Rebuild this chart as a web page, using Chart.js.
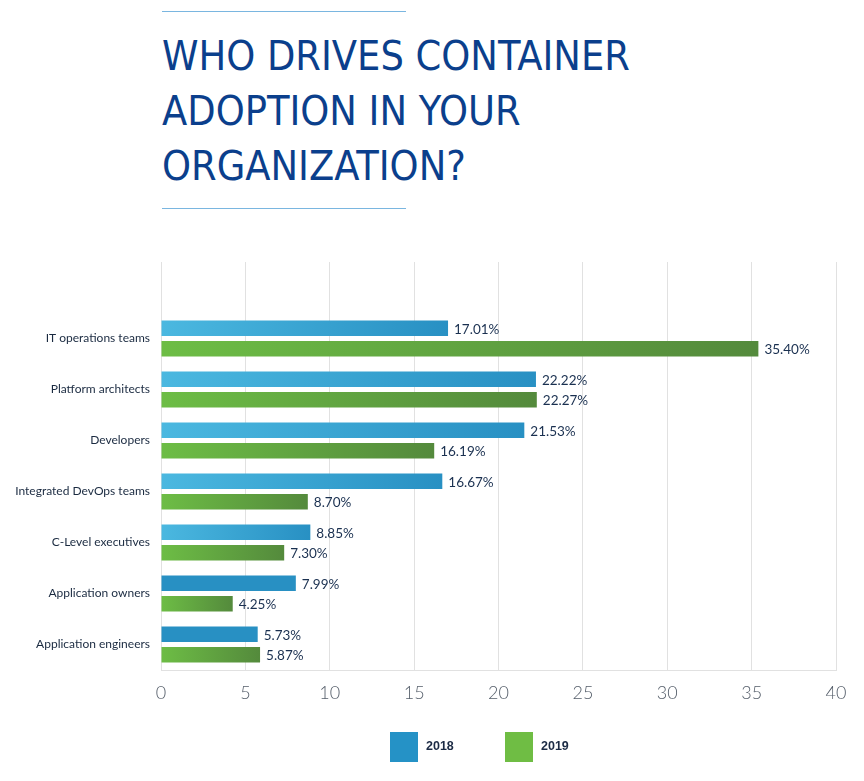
<!DOCTYPE html>
<html>
<head>
<meta charset="utf-8">
<script src="https://cdn.jsdelivr.net/npm/chart.js@4/dist/chart.umd.min.js"></script>
<style>
  html, body { margin: 0; padding: 0; background: #fff; }
  #wrap { position: relative; width: 864px; height: 781px; overflow: hidden; }
  #chart { position: absolute; left: 0; top: 0; }
  .rule { position: absolute; left: 162px; width: 244px; height: 1px; background: #7ab6e0; }
  #title {
    position: absolute; left: 162px; top: 29px; margin: 0;
    font-family: "DejaVu Sans Condensed", sans-serif;
    font-weight: normal; font-size: 41px; line-height: 55px; color: #0b3f8c;
  }
  .lg-box { position: absolute; top: 732px; width: 28px; height: 30px; }
  .lg-text {
    position: absolute; top: 738px; font-family: "Liberation Sans", sans-serif;
    font-weight: bold; font-size: 12.5px; line-height: 16px; color: #1b2a44;
  }
</style>
</head>
<body>
<div id="wrap">
  <div class="rule" style="top:11px"></div>
  <h1 id="title">WHO DRIVES CONTAINER<br>ADOPTION IN YOUR<br>ORGANIZATION?</h1>
  <div class="rule" style="top:208px"></div>
  <canvas id="chart" width="864" height="781"></canvas>
  <div class="lg-box" style="left:390px;background:#2592c6"></div>
  <div class="lg-text" style="left:426px">2018</div>
  <div class="lg-box" style="left:505px;background:#6fbd44"></div>
  <div class="lg-text" style="left:541px">2019</div>
</div>
<script>
const categories = ['IT operations teams', 'Platform architects', 'Developers', 'Integrated DevOps teams',
                    'C-Level executives', 'Application owners', 'Application engineers'];
const values2018 = [17.01, 22.22, 21.53, 16.67, 8.85, 7.99, 5.73];
const values2019 = [35.40, 22.27, 16.19, 8.70, 7.30, 4.25, 5.87];
const xTicks = [0, 5, 10, 15, 20, 25, 30, 35, 40];

// empty first slot leaves the blank band above the first group
const labels = [''].concat(categories);

function barFill(light, dark, solidFrom) {
    return function (ctx) {
        const chart = ctx.chart;
        if (!chart.chartArea || ctx.raw == null) return dark;
        if (solidFrom != null && ctx.dataIndex - 1 >= solidFrom) return dark;
        const x = chart.scales.x;
        const x0 = x.getPixelForValue(0);
        const x1 = x.getPixelForValue(ctx.raw);
        const g = chart.ctx.createLinearGradient(x0, 0, x1, 0);
        g.addColorStop(0, light);
        g.addColorStop(1, dark);
        return g;
    };
}

const valueLabels = {
    id: 'valueLabels',
    afterDatasetsDraw(chart) {
        const ctx = chart.ctx;
        ctx.save();
        ctx.font = '13.5px Lato, sans-serif';
        ctx.fillStyle = '#1a3050';
        ctx.textAlign = 'left';
        ctx.textBaseline = 'middle';
        chart.data.datasets.forEach((ds, di) => {
            chart.getDatasetMeta(di).data.forEach((bar, i) => {
                const v = ds.data[i];
                if (v == null) return;
                ctx.fillText(v.toFixed(2) + '%', bar.x + 6, bar.y + 1);
            });
        });
        ctx.restore();
    }
};

new Chart(document.getElementById('chart'), {
    type: 'bar',
    data: {
        labels: labels,
        datasets: [
            {
                label: '2018',
                data: [null].concat(values2018),
                backgroundColor: barFill('#4bb8e0', '#2890c3', 5)
            },
            {
                label: '2019',
                data: [null].concat(values2019),
                backgroundColor: barFill('#6dbd45', '#548a3c')
            }
        ]
    },
    options: {
        indexAxis: 'y',
        responsive: false,
        animation: false,
        categoryPercentage: 0.8,
        barPercentage: 0.76,
        layout: { padding: { top: 262, right: 28, bottom: 70, left: 0 } },
        plugins: {
            legend: { display: false },
            tooltip: { enabled: false }
        },
        scales: {
            x: {
                min: 0,
                max: 40,
                afterBuildTicks(scale) { scale.ticks = xTicks.map(v => ({ value: v })); },
                afterFit(scale) { scale.height = 41; },
                grid: { color: '#e1e1e1', drawTicks: false },
                border: { color: '#e1e1e1' },
                ticks: {
                    padding: 12,
                    color: '#555e6a',
                    font: { family: 'Lato', size: 18, weight: 300 }
                }
            },
            y: {
                afterFit(scale) { scale.width = 161; },
                grid: { display: false, drawTicks: false },
                border: { display: false },
                ticks: {
                    padding: 11,
                    color: '#1a2a40',
                    font: { family: 'Lato', size: 12 }
                }
            }
        }
    },
    plugins: [valueLabels]
});
</script>
</body>
</html>
